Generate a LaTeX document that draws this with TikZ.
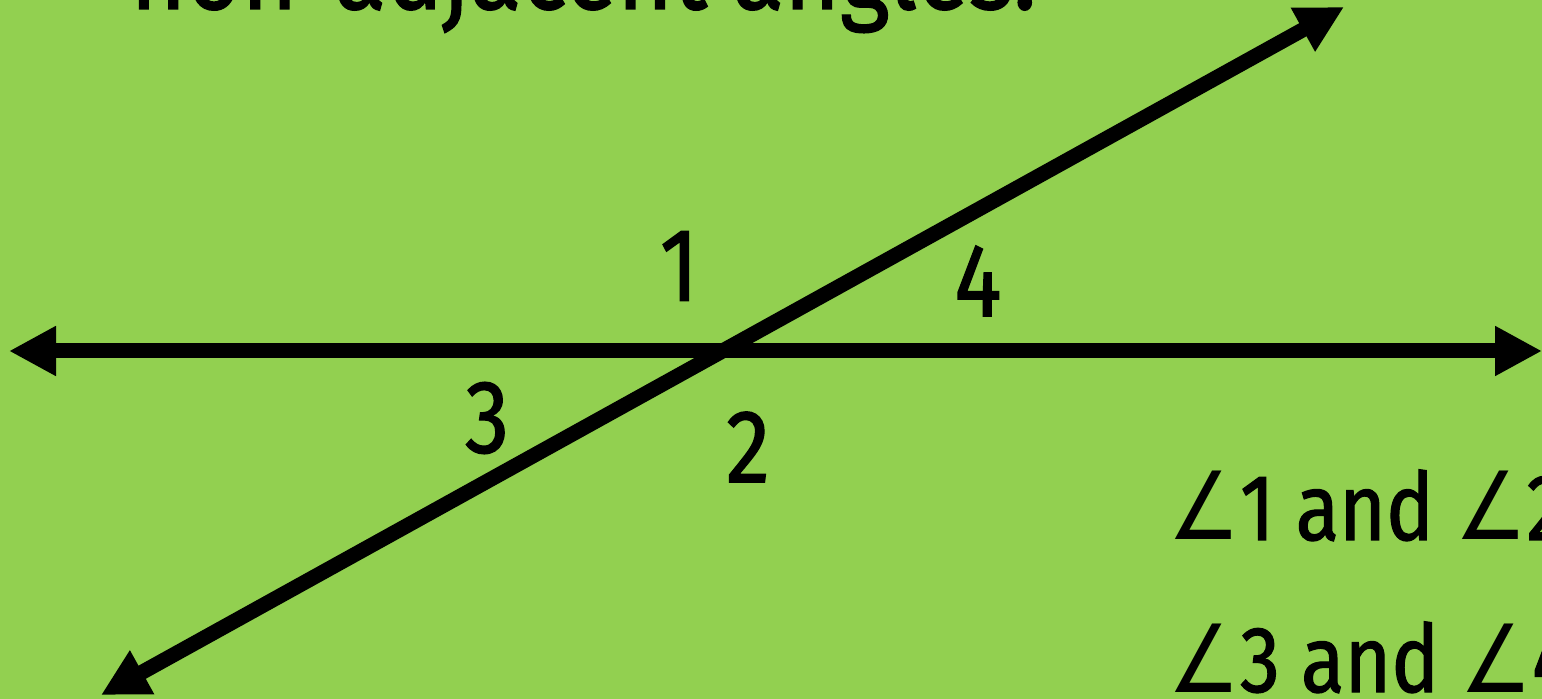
\documentclass[tikz,border=0pt]{standalone}
\usepackage{fontspec}
\setmainfont{Fira Sans}[FakeStretch=0.85, FakeBold=1.2]
\newfontfamily\symfam{DejaVu Sans}[FakeStretch=0.85]
\newcommand{\angsym}{{\symfam ∠}}
\usetikzlibrary{arrows.meta}
\definecolor{bggreen}{HTML}{92D050}
\tikzset{
  ray/.style={line width=7.5pt, {Triangle[length=23.5pt,width=23.5pt]}-{Triangle[length=23.5pt,width=23.5pt]}},
  lbl/.style={inner sep=0pt, font=\fontsize{52}{60}\selectfont},
  stmt/.style={inner sep=0pt, anchor=base west, font=\fontsize{47}{55}\selectfont},
}
\begin{document}
\begin{tikzpicture}[x=0.5pt,y=-0.5pt]
\useasboundingbox (0,0) rectangle (1542,699);
\clip (0,0) rectangle (1542,699);
\fill[bggreen] (0,0) rectangle (1542,699);
% title (cut off at top)
\node[stmt, font=\fontsize{56}{64}\selectfont] (title) at (130,9) {non-adjacent angles:};
% lines
\coordinate (hl) at (9,351);
\coordinate (hr) at (1542,351);
\coordinate (dl) at (101,695);
\coordinate (dr) at (1344,7);
\draw[ray] (hl) -- (hr);
\draw[ray] (dl) -- (dr);
% angle labels
\node[lbl] (a1) at (679,266) {1};
\node[lbl] (a4) at (978,281) {4};
\node[lbl] (a3) at (487,418) {3};
\node[lbl] (a2) at (748,447) {2};
% statements
\node[stmt] (s1) at (1168,540) {\angsym1 and \angsym2};
\node[stmt] (s2) at (1168,692) {\angsym3 and \angsym4};
\end{tikzpicture}
\end{document}
